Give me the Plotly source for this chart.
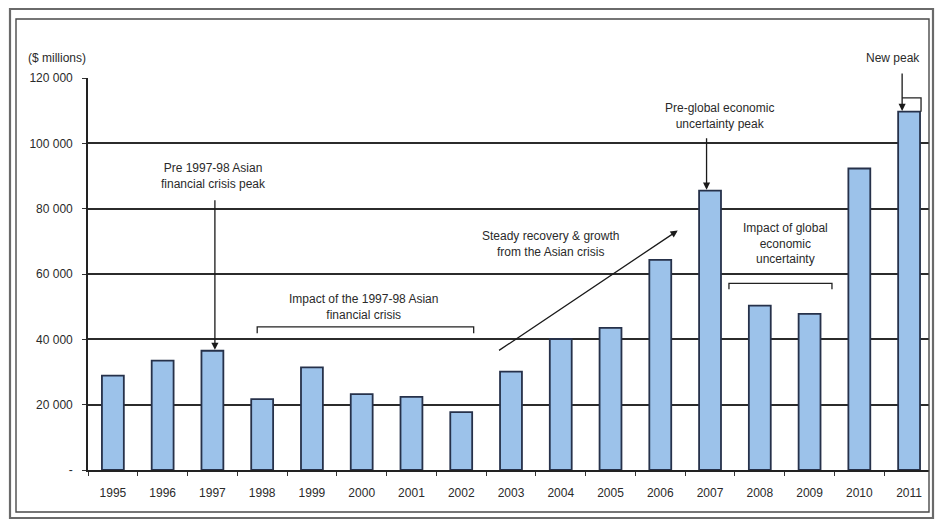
import plotly.graph_objects as go

years = ["1995", "1996", "1997", "1998", "1999", "2000", "2001", "2002", "2003",
         "2004", "2005", "2006", "2007", "2008", "2009", "2010", "2011"]
values = [28900, 33500, 36500, 21700, 31400, 23200, 22400, 17700, 30100,
          40100, 43500, 64300, 85500, 50300, 47800, 92300, 109700]
y_ticks = [0, 20000, 40000, 60000, 80000, 100000, 120000]
y_tick_text = ["-", "20 000", "40 000", "60 000", "80 000", "100 000", "120 000"]

W, H = 935, 521
L, R, T, B = 88, 6, 78, 51
FONT = "Liberation Sans, Arial, sans-serif"
TXT = "#2a2a2a"

def px(x):
    return (x - L) / (W - L - R)

def py(y):
    return (H - B - y) / (H - T - B)

fig = go.Figure()
fig.add_trace(go.Bar(
    x=years, y=values, width=0.44,
    marker=dict(color="#9cc2ea", line=dict(color="#26314a", width=1.8)),
    hoverinfo="x+y",
))

# Text annotations (data coordinates)
texts = [
    ("Pre 1997-98 Asian<br>financial crisis peak", 2.02, 90100),
    ("Impact of the 1997-98 Asian<br>financial crisis", 5.03, 49800),
    ("Steady recovery & growth<br>from the Asian crisis", 8.8, 69200),
    ("Pre-global economic<br>uncertainty peak", 12.2, 108500),
    ("Impact of global<br>economic<br>uncertainty", 13.52, 69200),
]
for t, x, y in texts:
    fig.add_annotation(x=x, y=y, xref="x", yref="y", text=t, showarrow=False,
                       xanchor="center", yanchor="middle",
                       font=dict(family=FONT, size=12, color=TXT), align="center")

# "New peak" sits above the plotting area
fig.add_annotation(x=px(893), y=py(58), xref="paper", yref="paper", text="New peak",
                   showarrow=False, xanchor="center", yanchor="middle",
                   font=dict(family=FONT, size=12, color=TXT))

# Arrows: (head_x, head_y, tail_x, tail_y)
arrows = [
    (2.05, 36800, 2.05, 83000),
    (11.35, 73300, 7.73, 36300),
    (11.93, 85800, 11.93, 102000),
    (15.86, 109900, 15.86, 121800),
]
for hx, hy, tx, ty in arrows:
    fig.add_annotation(x=hx, y=hy, ax=tx, ay=ty, xref="x", yref="y", axref="x", ayref="y",
                       text="", showarrow=True, arrowhead=2, arrowsize=1.1,
                       arrowwidth=1.3, arrowcolor="#1a1a1a")

# Brackets
brackets = [
    (2.90, 7.25, 43800, 41900),
    (12.38, 14.45, 57100, 55300),
]
for x0, x1, yh, yl in brackets:
    fig.add_shape(type="path",
                  path=f"M {x0} {yl} L {x0} {yh} L {x1} {yh} L {x1} {yl}",
                  xref="x", yref="y", line=dict(color="#222", width=1.3))
# New peak bracket line
fig.add_shape(type="path", path="M 15.86 113900 L 16.24 113900 L 16.24 109700",
              xref="x", yref="y", line=dict(color="#222", width=1.3))

# y-axis title
fig.add_annotation(x=px(26), y=py(58), xref="paper", yref="paper", text="($ millions)",
                   showarrow=False, xanchor="left", yanchor="middle",
                   font=dict(family=FONT, size=12, color=TXT))

# Frame borders
fig.add_shape(type="rect", xref="paper", yref="paper",
              x0=px(10), x1=px(933), y0=py(518), y1=py(9),
              line=dict(color="#6a6a6a", width=2.2), layer="above")
fig.add_shape(type="rect", xref="paper", yref="paper",
              x0=px(16), x1=px(929), y0=py(512), y1=py(19),
              line=dict(color="#4a4a4a", width=1.4), layer="above")

fig.update_layout(
    width=W, height=H,
    margin=dict(l=L, r=R, t=T, b=B),
    paper_bgcolor="white", plot_bgcolor="white",
    showlegend=False,
    font=dict(family=FONT, size=12, color=TXT),
    xaxis=dict(type="category", range=[-0.5, 16.4], showgrid=False,
               showline=True, linecolor="#222", linewidth=1.6,
               ticks="outside", tickson="boundaries", ticklen=4, tickcolor="#333",
               ticklabelstandoff=11, tickfont=dict(family=FONT, size=12, color=TXT)),
    yaxis=dict(range=[0, 120000], tickvals=y_ticks, ticktext=y_tick_text,
               showgrid=True, gridcolor="#2b2b2b", gridwidth=1.5, zeroline=False,
               showline=True, linecolor="#222", linewidth=1.6,
               ticks="outside", ticklen=4, tickcolor="#333",
               ticklabelstandoff=7, tickfont=dict(family=FONT, size=12, color=TXT)),
)

fig.write_html("out.html")
